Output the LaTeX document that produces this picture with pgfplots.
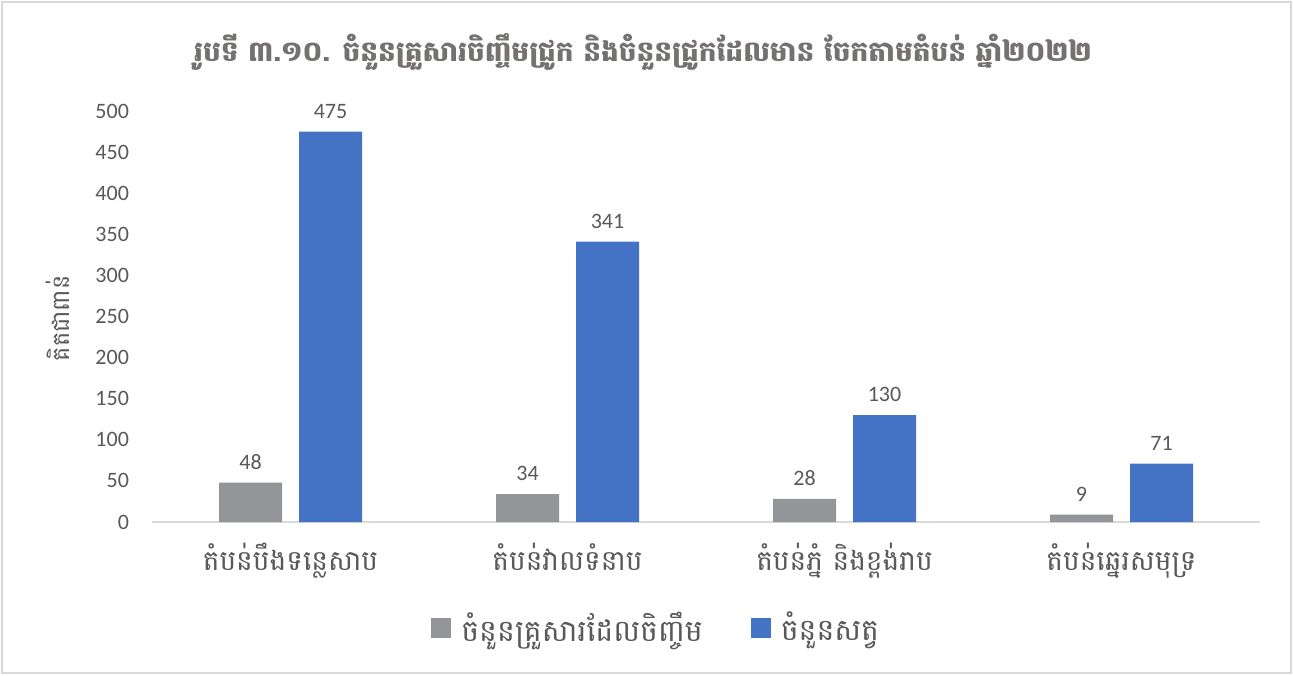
\documentclass[border=0pt]{standalone}
\usepackage{fontspec}
\setmainfont{Carlito}
\newfontfamily\khmer[Script=Khmer]{Battambang}
\usepackage{pgfplots}
\pgfplotsset{compat=1.18}
\definecolor{cgray}{HTML}{939598}
\definecolor{cblue}{HTML}{4472C4}
\definecolor{ctext}{HTML}{595959}
\definecolor{ctitle}{HTML}{767171}
\definecolor{cline}{HTML}{D9D9D9}
\begin{document}
\begin{tikzpicture}[x=0.5pt,y=0.5pt]
\fill[white] (0,0) rectangle (1293,675);
\draw[cline, line width=0.75pt] (2,2) rectangle (1291,673);
\begin{axis}[
  at={(76pt,76.5pt)}, anchor=south west,
  scale only axis, width=554pt, height=205.5pt,
  xmin=-0.5, xmax=3.5, ymin=0, ymax=500,
  ybar=8.5pt, bar width=31.5pt,
  clip=false,
  axis x line*=bottom, axis y line*=left,
  y axis line style={draw=none},
  x axis line style={draw=cline, line width=0.75pt, -},
  major tick length=0pt,
  ytick={0,50,...,500},
  xtick={0,1,2,3},
  xticklabels={{តំបន់បឹងទន្លេសាប},{តំបន់វាលទំនាប},{តំបន់ភ្នំ និងខ្ពង់រាប},{តំបន់ឆ្នេរសមុទ្រ}},
  xticklabel style={font=\khmer\fontsize{14}{16}\selectfont, text=ctext, yshift=-7pt},
  yticklabel style={font=\fontsize{11}{13}\selectfont, text=ctext, xshift=-8pt},
  /pgf/number format/assume math mode=true,
  every axis y label/.style={at={(axis description cs:-0.085,0.496)}, rotate=90, anchor=center},
  ylabel={\khmer\fontsize{12}{14}\selectfont គិតជាពាន់},
  ylabel style={text=ctext},
  nodes near coords,
  every node near coord/.append style={font=\fontsize{11}{13}\selectfont, text=ctext, yshift=3pt},
  legend style={at={(axis description cs:0.456,-0.258)}, anchor=center, draw=none, fill=none,
    legend columns=2, font=\khmer\fontsize{15}{17}\selectfont, text=ctext,
    /tikz/every even column/.append style={column sep=22pt}},
  legend image code/.code={\fill[#1] (0pt,-5pt) rectangle (10pt,5pt);},
]
\addplot[fill=cgray, draw=none] coordinates {(0,48) (1,34) (2,28) (3,9)};
\addplot[fill=cblue, draw=none] coordinates {(0,475) (1,341) (2,130) (3,71)};
\legend{\hspace{3pt}ចំនួនគ្រួសារដែលចិញ្ចឹម, \hspace{3pt}ចំនួនសត្វ}
\end{axis}
\node[font=\khmer\bfseries\fontsize{14}{17}\selectfont, text=ctitle] at (643,623) {រូបទី ៣.១០. ចំនួនគ្រួសារចិញ្ចឹមជ្រូក និងចំនួនជ្រូកដែលមាន ចែកតាមតំបន់ ឆ្នាំ២០២២};
\end{tikzpicture}
\end{document}
